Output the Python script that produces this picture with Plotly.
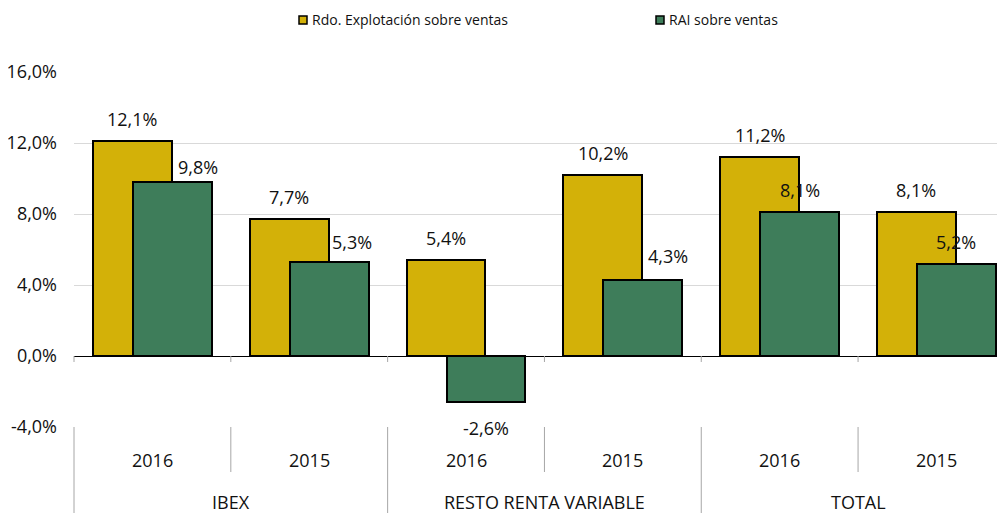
import plotly.graph_objects as go

# ---- data ----
groups = ["IBEX", "RESTO RENTA VARIABLE", "TOTAL"]
years = ["2016", "2015", "2016", "2015", "2016", "2015"]
rdo_explotacion = [12.1, 7.7, 5.4, 10.2, 11.2, 8.1]
rai = [9.8, 5.3, -2.6, 4.3, 8.1, 5.2]
y_tickvals = [-4, 0, 4, 8, 12, 16]
y_ticktext = ["-4,0%", "0,0%", "4,0%", "8,0%", "12,0%", "16,0%"]
series_names = ["Rdo. Explotación sobre ventas", "RAI sobre ventas"]

# ---- style ----
YELLOW = "#D3B108"
GREEN = "#3E7D5A"
FONT = "Open Sans"
PAGE = 8  # default page body margin
W, H = 1005 - PAGE, 513 - PAGE
ML, MR, MT, MB = 74 - PAGE, 0, 72 - PAGE, 513 - 427
PW, PH = W - ML - MR, H - MT - MB
XR = [-0.5, 5.437]
BAR_W = 0.503
OFF_Y = -0.379
OFF_G = -0.124
# label shifts (pixels) for green labels, tuned per point
g_dx = [26, 23, 0, 25, 0, 0]
g_dy = [15, 20, -26, 24, 22, 22]

idx = list(range(len(years)))


def fmt(v):
    return ("%.1f%%" % v).replace(".", ",")


def px_x(px):  # window px -> paper
    return (px - PAGE - ML) / PW


def px_y(py):
    return (H - MB - (py - PAGE)) / PH


def xpaper(xv):
    return (xv - XR[0]) / (XR[1] - XR[0])


fig = go.Figure()
fig.add_trace(go.Bar(x=idx, y=rdo_explotacion, name=series_names[0], offset=OFF_Y, width=BAR_W,
                     marker=dict(color=YELLOW, line=dict(color="black", width=2)), showlegend=False))
fig.add_trace(go.Bar(x=idx, y=rai, name=series_names[1], offset=OFF_G, width=BAR_W,
                     marker=dict(color=GREEN, line=dict(color="black", width=2)), showlegend=False))

ann = []
cy = OFF_Y + BAR_W / 2
cg = OFF_G + BAR_W / 2
LBL = dict(family=FONT, size=18, color="#111")
for i in idx:
    ann.append(dict(x=i + cy, y=rdo_explotacion[i], xref="x", yref="y", text=fmt(rdo_explotacion[i]),
                    showarrow=False, yanchor="middle", xanchor="center", yshift=22, font=LBL))
    ann.append(dict(x=i + cg, y=rai[i], xref="x", yref="y", text=fmt(rai[i]),
                    showarrow=False, yanchor="middle", xanchor="center", yshift=g_dy[i], xshift=g_dx[i],
                    font=LBL))
    ann.append(dict(x=i, y=0, xref="x", yref="paper", text=years[i], showarrow=False,
                    yanchor="middle", xanchor="center", yshift=-33, font=LBL))
for g, name in enumerate(groups):
    ann.append(dict(x=2 * g + 0.5, y=0, xref="x", yref="paper", text=name, showarrow=False,
                    yanchor="middle", xanchor="center", yshift=-75, font=LBL))

shapes = []
GRAY = "#A6A6A6"
for b in range(len(years)):
    xb = xpaper(b - 0.5)
    long_ = (b % 2 == 0)
    shapes.append(dict(type="line", xref="paper", yref="paper", x0=xb, x1=xb, y0=0,
                       y1=px_y(513 if long_ else 472), line=dict(color=GRAY, width=1)))
    shapes.append(dict(type="line", xref="paper", yref="paper", x0=xb, x1=xb, y0=px_y(356),
                       y1=px_y(362), line=dict(color=GRAY, width=1)))

# legend (manual)
leg_items = [(303, YELLOW, series_names[0]), (660, GREEN, series_names[1])]
for cx, col, name in leg_items:
    shapes.append(dict(type="rect", xref="paper", yref="paper", x0=px_x(cx - 4), x1=px_x(cx + 4),
                       y0=px_y(24), y1=px_y(16), fillcolor=col, line=dict(color="black", width=1.5)))
    ann.append(dict(x=px_x(cx + 7), y=px_y(20), xref="paper", yref="paper", text=name, showarrow=False,
                    xanchor="left", yanchor="middle", font=dict(family=FONT, size=14, color="#111")))

fig.update_layout(
    width=W, height=H, margin=dict(l=ML, r=MR, t=MT, b=MB, autoexpand=False),
    paper_bgcolor="white", plot_bgcolor="white",
    barmode="overlay", bargap=0,
    annotations=ann, shapes=shapes,
    xaxis=dict(range=XR, showticklabels=False, showgrid=False, zeroline=False, showline=False, ticks="",
               automargin=False),
    yaxis=dict(range=[-4, 16], tickvals=y_tickvals, ticktext=y_ticktext, showgrid=True,
               gridcolor="#D9D9D9", gridwidth=1, zeroline=True, zerolinecolor="black", zerolinewidth=1,
               showline=False, ticks="", ticklabelstandoff=16, automargin=False,
               tickfont=dict(family=FONT, size=18, color="#111")),
)
fig.write_html("out.html")
